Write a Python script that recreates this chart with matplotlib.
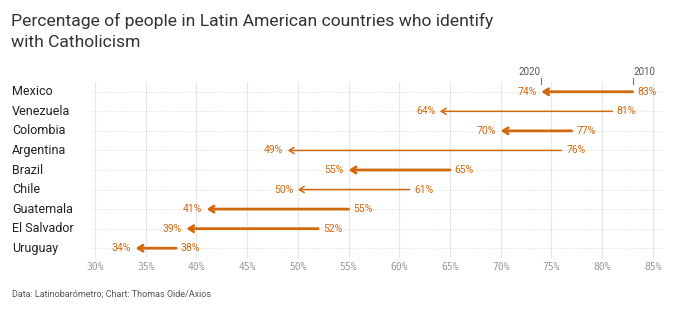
import matplotlib
matplotlib.use('Agg')
import matplotlib.pyplot as plt
import matplotlib.transforms as mtransforms

# Catholic share, 2010 -> 2020
countries = ['Mexico', 'Venezuela', 'Colombia', 'Argentina', 'Brazil',
             'Chile', 'Guatemala', 'El Salvador', 'Uruguay']
pct_2010 = [83, 81, 77, 76, 65, 61, 55, 52, 38]
pct_2020 = [74, 64, 70, 49, 55, 50, 41, 39, 34]
xticks = [30, 35, 40, 45, 50, 55, 60, 65, 70, 75, 80, 85]

ORANGE = '#d2690f'
line_widths = [2.0, 1.1, 2.0, 1.1, 2.0, 1.1, 2.0, 2.0, 2.0]

plt.rcParams['font.family'] = ['Roboto', 'DejaVu Sans']

fig = plt.figure(figsize=(6.8, 3.3), dpi=100)
fig.patch.set_facecolor('white')
ax = fig.add_axes([90 / 680, 1 - 258 / 330, 574 / 680, 176 / 330])

ax.set_xlim(29.5, 86.1)
ax.set_ylim(len(countries) - 0.5, -0.5)

# grid
for x in xticks:
    ax.axvline(x, color='#e8e8e8', lw=0.9, zorder=0)
for i in range(len(countries)):
    ax.axhline(i, color='#dddddd', lw=0.7, ls=(0, (1, 1.5)), zorder=0)

for i, (a, b) in enumerate(zip(pct_2010, pct_2020)):
    lw = line_widths[i]
    ax.annotate('', xy=(b, i), xytext=(a, i),
                arrowprops=dict(arrowstyle='->,head_length=0.35,head_width=0.22',
                                color=ORANGE, lw=lw, shrinkA=0, shrinkB=0))
    ax.text(b - 0.45, i, f'{b}%', ha='right', va='center', fontsize=7.5, color=ORANGE)
    ax.text(a + 0.45, i, f'{a}%', ha='left', va='center', fontsize=7.5, color=ORANGE)

# year markers above the first row
for x, yr, ha in [(pct_2020[0], '2020', 'right'), (pct_2010[0], '2010', 'left')]:
    ax.plot([x, x], [-0.72, -0.42], color='#777777', lw=0.8, clip_on=False)
    ax.text(x + (0.05 if ha == 'left' else -0.05), -0.78, yr, ha=ha, va='bottom',
            fontsize=7, color='#555555', clip_on=False)

for s in ax.spines.values():
    s.set_visible(False)
ax.set_yticks([])
ax.set_xticks(xticks)
ax.set_xticklabels([f'{x}%' for x in xticks], family='DejaVu Sans Mono',
                   fontsize=7, color='#999999')
ax.tick_params(axis='x', length=0, pad=3)

trans = mtransforms.blended_transform_factory(fig.transFigure, ax.transData)
for i, c in enumerate(countries):
    ax.text(12 / 680, i, c, transform=trans, ha='left', va='center',
            fontsize=9, color='#222222')

fig.text(11 / 680, 1 - 31 / 330,
         'Percentage of people in Latin American countries who identify\nwith Catholicism',
         ha='left', va='center', fontsize=12.6, color='#333333', linespacing=1.5)
fig.text(12 / 680, 1 - 294 / 330, 'Data: Latinobarómetro; Chart: Thomas Oide/Axios',
         ha='left', va='center', fontsize=6.5, color='#555555')

fig.savefig('out.png', dpi=100, facecolor='white')
